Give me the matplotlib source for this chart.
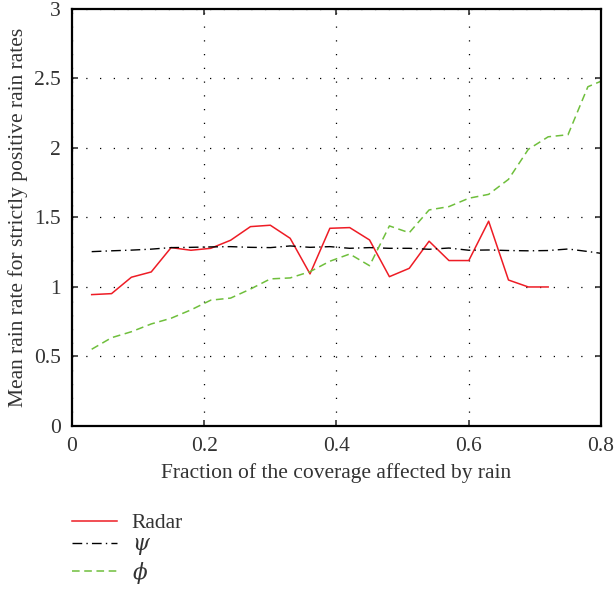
import matplotlib.pyplot as plt

# Fraction of the coverage (x) for each curve
x_radar = [0.03, 0.06, 0.09, 0.12, 0.15, 0.18, 0.21, 0.24, 0.27, 0.30, 0.33, 0.36,
           0.39, 0.42, 0.45, 0.48, 0.51, 0.54, 0.57, 0.60, 0.63, 0.66, 0.69, 0.72]
radar = [0.945, 0.952, 1.07, 1.108, 1.283, 1.264, 1.278, 1.336, 1.434, 1.444, 1.35, 1.094,
         1.422, 1.427, 1.338, 1.074, 1.134, 1.329, 1.19, 1.19, 1.473, 1.05, 1.0, 1.0]

x_model = [0.03, 0.06, 0.09, 0.12, 0.15, 0.18, 0.21, 0.24, 0.27, 0.30, 0.33, 0.36, 0.39,
           0.42, 0.45, 0.48, 0.51, 0.54, 0.57, 0.60, 0.63, 0.66, 0.69, 0.72, 0.75, 0.78, 0.81]
psi = [1.254, 1.26, 1.265, 1.272, 1.283, 1.285, 1.288, 1.29, 1.285, 1.283, 1.295, 1.285, 1.29,
       1.278, 1.283, 1.278, 1.278, 1.271, 1.28, 1.264, 1.266, 1.262, 1.26, 1.262, 1.273, 1.255, 1.235]
phi = [0.552, 0.635, 0.678, 0.734, 0.775, 0.835, 0.905, 0.92, 0.985, 1.058, 1.065, 1.11, 1.185,
       1.237, 1.153, 1.439, 1.39, 1.554, 1.578, 1.638, 1.666, 1.774, 1.99, 2.08, 2.095, 2.44, 2.5]

xticks = [0, 0.2, 0.4, 0.6, 0.8]
xticklabels = ['0', '0.2', '0.4', '0.6', '0.8']
yticks = [0, 0.5, 1, 1.5, 2, 2.5, 3]
yticklabels = ['0', '0.5', '1', '1.5', '2', '2.5', '3']

plt.rcParams['font.family'] = ['Liberation Serif', 'DejaVu Serif']
plt.rcParams['mathtext.fontset'] = 'dejavuserif'

fig = plt.figure(figsize=(6.14, 5.92), dpi=100)
ax = fig.add_axes([0.117, 0.2804, 0.862, 0.7046])

ax.plot(x_radar, radar, color='#ee1c25', lw=1.1, label='Radar')
ax.plot(x_model, psi, color='black', lw=1.0, linestyle=(0, (7, 3, 1, 3)), label=r'$\psi$')
ax.plot(x_model, phi, color='#6fbf3c', lw=1.1, linestyle=(0, (5, 3)), label=r'$\phi$')

ax.set_xlim(0, 0.8)
ax.set_ylim(0, 3)
ax.set_xticks(xticks)
ax.set_xticklabels(xticklabels)
ax.set_yticks(yticks)
ax.set_yticklabels(yticklabels)
ax.tick_params(direction='in', top=True, right=True, length=4, width=1.2,
               labelsize=15.5, colors='#333333', pad=8)
ax.grid(True, color='black', linestyle=(0, (1, 10)), linewidth=0.9)
for s in ax.spines.values():
    s.set_linewidth(1.6)

ax.set_xlabel('Fraction of the coverage affected by rain', fontsize=15.5, color='#333333', labelpad=5)
ax.set_ylabel('Mean rain rate for strictly positive rain rates', fontsize=15.5, color='#333333', labelpad=4)

fig.legend(loc='upper left', bbox_to_anchor=(0.085, 0.166), frameon=False, fontsize=15.5,
           handlelength=2.1, handletextpad=0.7, labelspacing=0.1, labelcolor='#333333')

plt.savefig('out.png')
